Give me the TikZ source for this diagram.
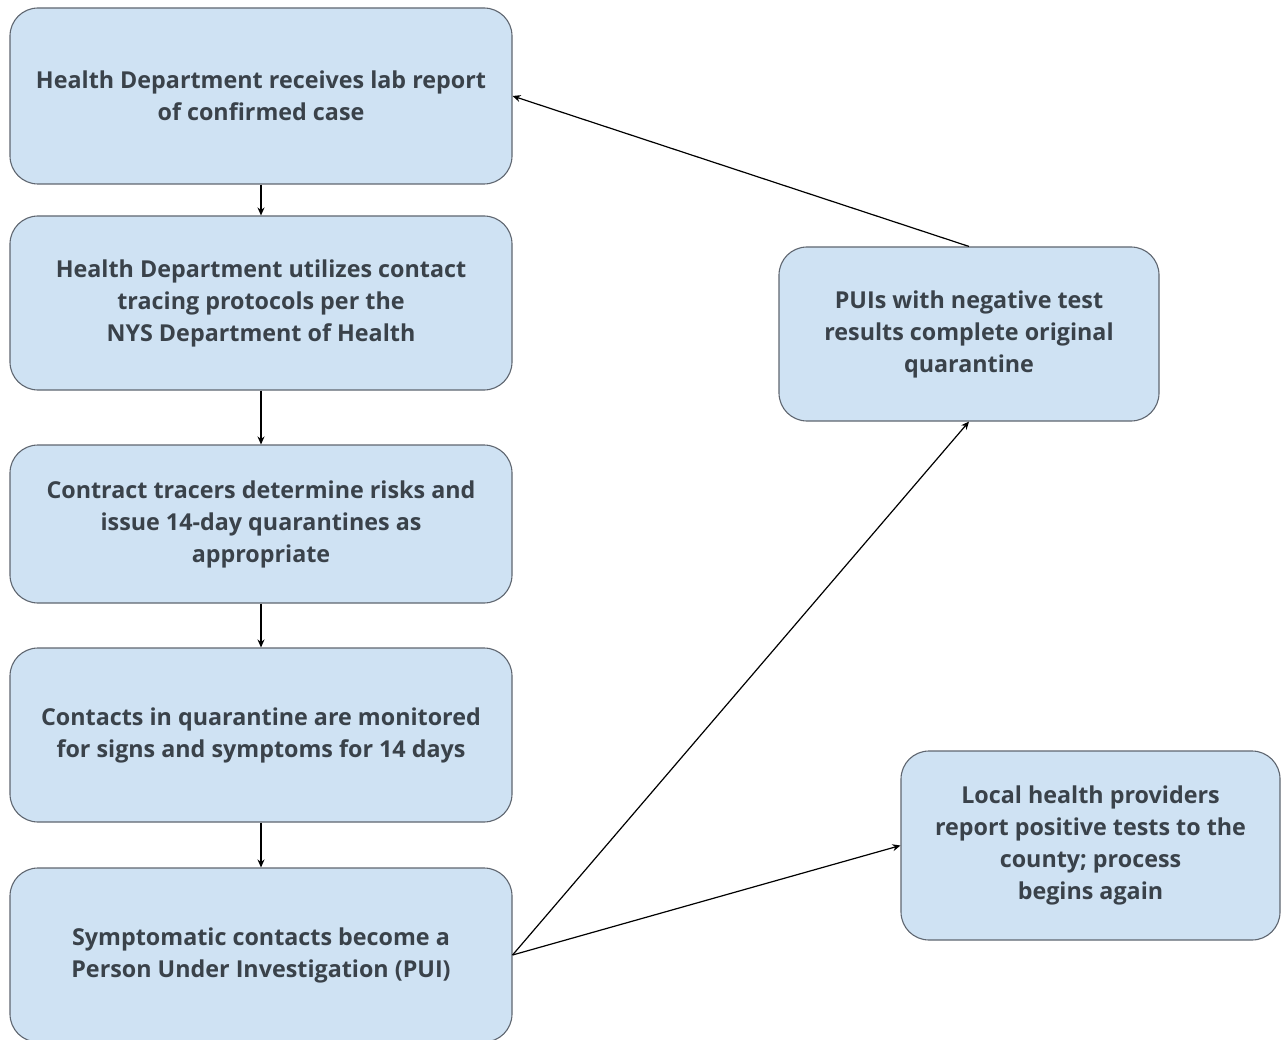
\documentclass[tikz,border=0pt]{standalone}
\usepackage{fontspec}
\setmainfont{Open Sans}[BoldFont={Open Sans Bold}]
\usetikzlibrary{arrows.meta}
\definecolor{boxfill}{HTML}{CFE2F3}
\definecolor{boxline}{HTML}{5F6670}
\definecolor{txt}{HTML}{3A424A}
\begin{document}
\begin{tikzpicture}[x=1pt,y=-1pt,
  flow/.style={draw=boxline,line width=1.1pt,fill=boxfill,rounded corners=28pt,
    inner sep=0pt,align=center,text=txt,
    font=\fontsize{23.3}{32}\selectfont\bfseries},
  conn/.style={draw=black,line width=1.2pt,-{Stealth[length=8pt,width=7pt]}}]
\useasboundingbox (0,0) rectangle (1281,1040);
\node[flow,minimum width=502pt,minimum height=176pt] (a) at (261,96)
  {Health Department receives lab report\\of confirmed case};
\node[flow,minimum width=502pt,minimum height=174pt] (b) at (261,303)
  {Health Department utilizes contact\\tracing protocols per the\\NYS Department of Health};
\node[flow,minimum width=502pt,minimum height=158pt] (c) at (261,524)
  {Contract tracers determine risks and\\issue 14-day quarantines as\\appropriate};
\node[flow,minimum width=502pt,minimum height=174pt] (d) at (261,735)
  {Contacts in quarantine are monitored\\for signs and symptoms for 14 days};
\node[flow,minimum width=502pt,minimum height=174pt] (e) at (261,955)
  {Symptomatic contacts become a\\Person Under Investigation (PUI)};
\node[flow,minimum width=380pt,minimum height=174pt] (f) at (969,334)
  {PUIs with negative test\\results complete original\\quarantine};
\node[flow,minimum width=379pt,minimum height=189pt] (g) at (1090.5,845.5)
  {Local health providers\\report positive tests to the\\county; process\\begins again};
\draw[conn] (a) -- (b);
\draw[conn] (b) -- (c);
\draw[conn] (c) -- (d);
\draw[conn] (d) -- (e);
\draw[conn] (e.east) -- (f.south);
\draw[conn] (e.east) -- (g.west);
\draw[conn] (f.north) -- (a.east);
\end{tikzpicture}
\end{document}
